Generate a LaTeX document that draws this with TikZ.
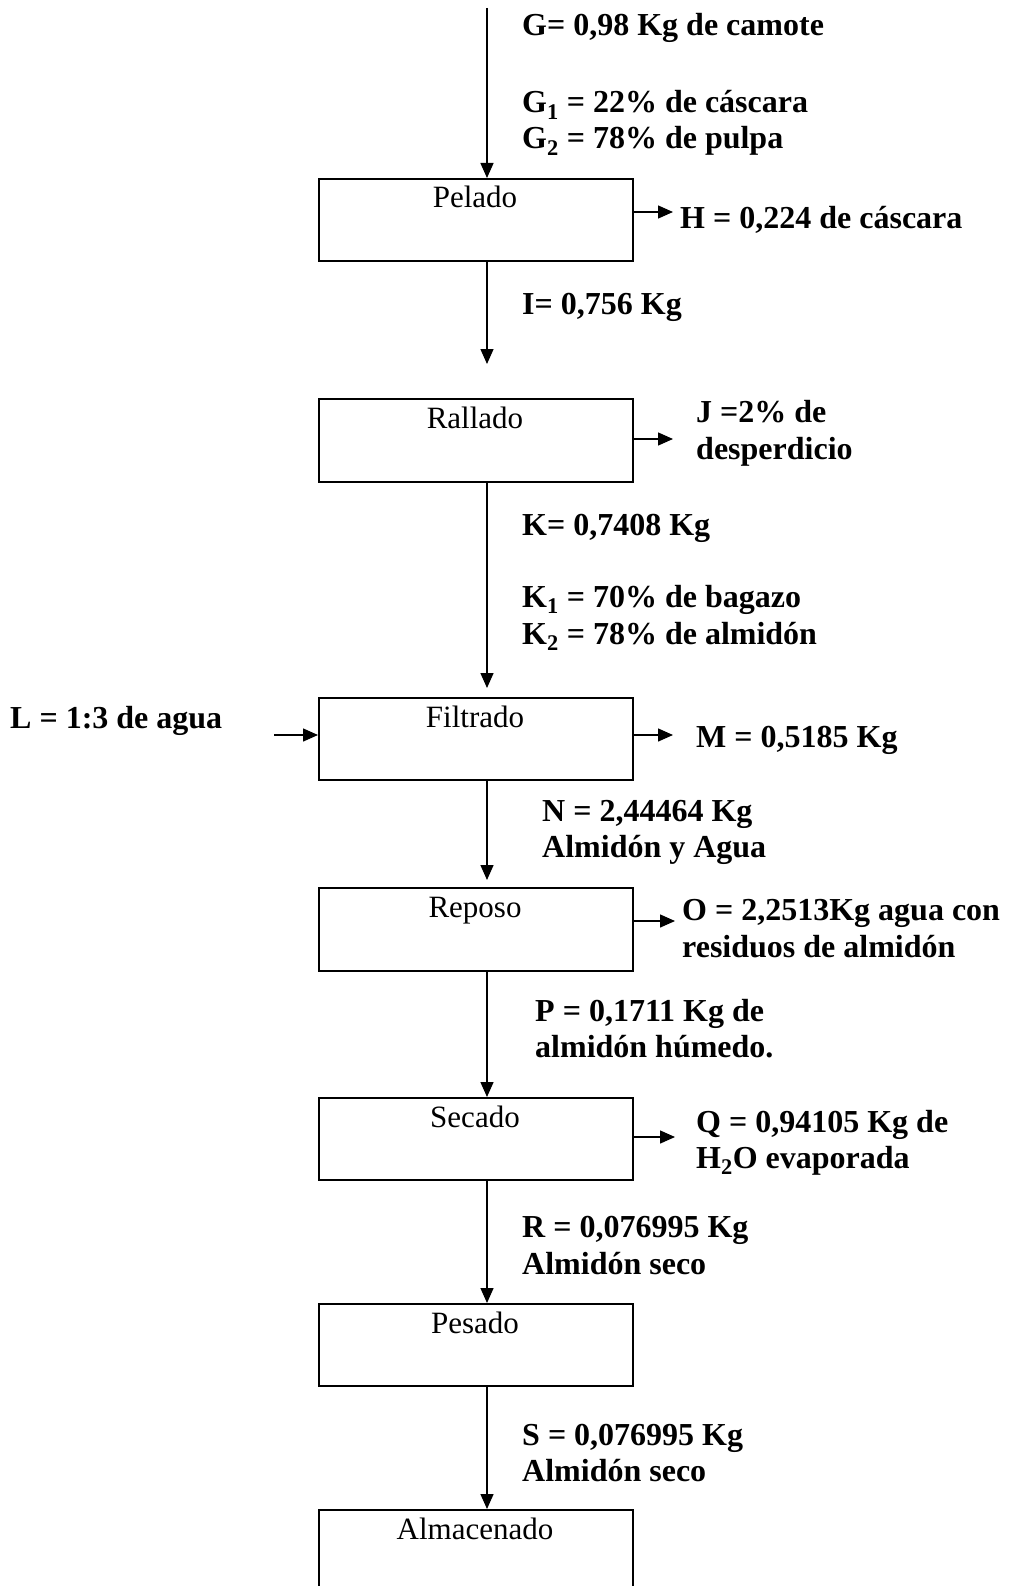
\documentclass[tikz,border=0pt]{standalone}
\usepackage{fontspec}
\setmainfont{Liberation Serif}
\usetikzlibrary{arrows.meta,calc}

\begin{document}
\begin{tikzpicture}[x=1pt,y=1pt,
  stage/.style={draw,line width=2pt,minimum width=314pt,inner sep=0pt,anchor=north west},
  stagetxt/.style={anchor=base,font=\fontsize{31}{36}\selectfont,inner sep=0pt},
  val/.style={anchor=base west,font=\fontsize{32}{36}\selectfont\bfseries,inner sep=0pt},
  flow/.style={line width=1.4pt,-{Triangle[length=15pt,width=13pt]}}]

\useasboundingbox (0,0) rectangle (1009,-1586);
\clip (0,0) rectangle (1009,-1586);
\fill[white] (0,0) rectangle (1009,-1586);

% process stages
\node[stage,minimum height=82pt]  (pel) at (318,-178)  {};
\node[stage,minimum height=83pt]  (ral) at (318,-398)  {};
\node[stage,minimum height=82pt]  (fil) at (318,-697)  {};
\node[stage,minimum height=83pt]  (rep) at (318,-887)  {};
\node[stage,minimum height=82pt]  (sec) at (318,-1097) {};
\node[stage,minimum height=82pt]  (pes) at (318,-1303) {};
\node[stage,minimum height=130pt] (alm) at (318,-1509) {};

\node[stagetxt] (pelT) at (475,-208)  {Pelado};
\node[stagetxt] (ralT) at (475,-428)  {Rallado};
\node[stagetxt] (filT) at (475,-727)  {Filtrado};
\node[stagetxt] (repT) at (475,-917)  {Reposo};
\node[stagetxt] (secT) at (475,-1127) {Secado};
\node[stagetxt] (pesT) at (475,-1333) {Pesado};
\node[stagetxt] (almT) at (475,-1539) {Almacenado};

% main stream
\coordinate (feed) at (487,-8);
\coordinate (iEnd) at (487,-364);
\coordinate (kEnd) at (487,-688);
\coordinate (nEnd) at (487,-880);
\draw[flow] (feed) -- (feed |- pel.north);
\draw[flow] (pel.south -| feed) -- (iEnd);
\draw[flow] (ral.south -| feed) -- (kEnd);
\draw[flow] (fil.south -| feed) -- (nEnd);
\draw[flow] (rep.south -| feed) -- (feed |- sec.north);
\draw[flow] (sec.south -| feed) -- (feed |- pes.north);
\draw[flow] (pes.south -| feed) -- (feed |- alm.north);

% side streams
\coordinate (hEnd) at (673,-212);
\coordinate (jEnd) at (673,-439);
\coordinate (lSrc) at (274,-735);
\coordinate (mEnd) at (673,-735);
\coordinate (oEnd) at (675,-921);
\coordinate (qEnd) at (675,-1137);
\draw[flow] (pel.east |- hEnd) -- (hEnd);
\draw[flow] (ral.east |- jEnd) -- (jEnd);
\draw[flow] (lSrc) -- (fil.west |- lSrc);
\draw[flow] (fil.east |- mEnd) -- (mEnd);
\draw[flow] (rep.east |- oEnd) -- (oEnd);
\draw[flow] (sec.east |- qEnd) -- (qEnd);

% stream values
\node[val] (g)  at (522,-36)   {G= 0,98 Kg de camote};
\node[val] (g1) at (522,-113)  {G\textsubscript{1} = 22\% de cáscara};
\node[val] (g2) at (522,-149)  {G\textsubscript{2} = 78\% de pulpa};
\node[val] (h)  at (680,-229)  {H = 0,224 de cáscara};
\node[val] (i)  at (522,-315)  {I= 0,756 Kg};
\node[val] (j1) at (696,-422)  {J =2\% de};
\node[val] (j2) at (696,-459)  {desperdicio};
\node[val] (k)  at (522,-535)  {K= 0,7408 Kg};
\node[val] (k1) at (522,-607)  {K\textsubscript{1} = 70\% de bagazo};
\node[val] (k2) at (522,-644)  {K\textsubscript{2} = 78\% de almidón};
\node[val] (l)  at (10,-728)   {L = 1:3 de agua};
\node[val] (m)  at (696,-747)  {M = 0,5185 Kg};
\node[val] (n1) at (542,-821)  {N = 2,44464 Kg};
\node[val] (n2) at (542,-857)  {Almidón y Agua};
\node[val] (o1) at (682,-920)  {O = 2,2513Kg agua con};
\node[val] (o2) at (682,-957)  {residuos de almidón};
\node[val] (p1) at (535,-1021) {P = 0,1711 Kg de};
\node[val] (p2) at (535,-1057) {almidón húmedo.};
\node[val] (q1) at (696,-1132) {Q = 0,94105 Kg de};
\node[val] (q2) at (696,-1168) {H\textsubscript{2}O evaporada};
\node[val] (r1) at (522,-1237) {R = 0,076995 Kg};
\node[val] (r2) at (522,-1274) {Almidón seco};
\node[val] (s1) at (522,-1445) {S = 0,076995 Kg};
\node[val] (s2) at (522,-1481) {Almidón seco};
\end{tikzpicture}
\end{document}
